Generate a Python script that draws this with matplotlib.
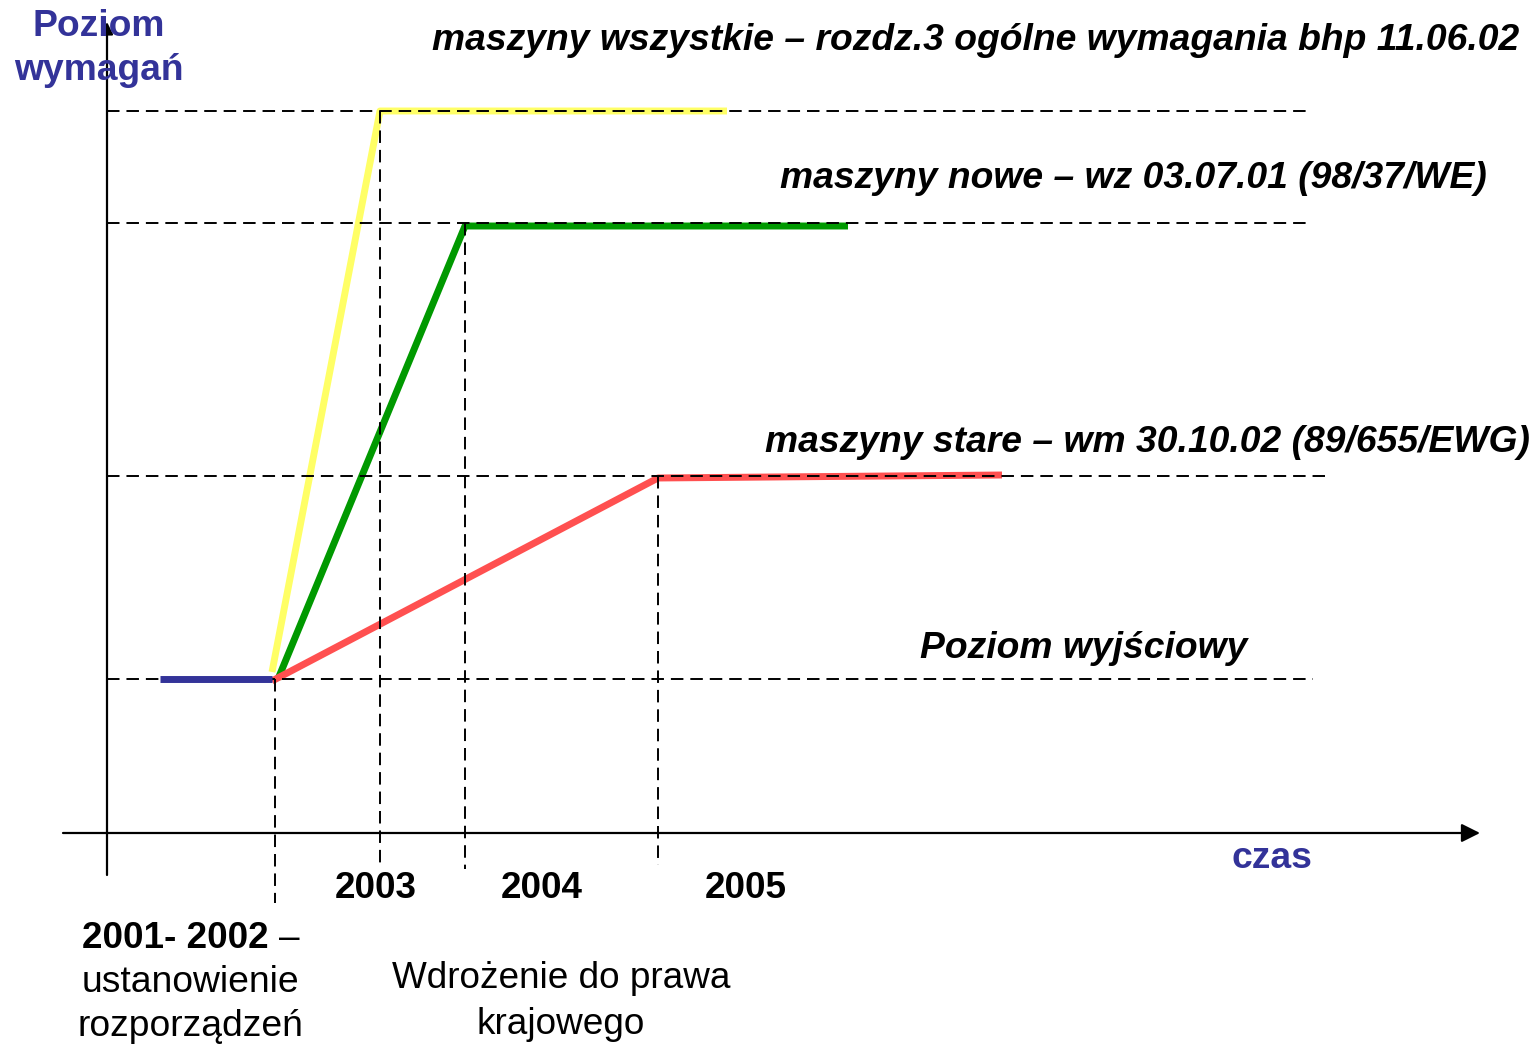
import matplotlib
matplotlib.use("Agg")
import matplotlib.pyplot as plt

plt.rcParams['font.family'] = ['Liberation Sans', 'DejaVu Sans']
plt.rcParams['lines.scale_dashes'] = False

# ---- data (time units along x, requirement level along y) ----
t_blue = [0.53, 1.65]
lvl_base = 1.54

t_yellow = [1.65, 2.73, 6.20]
y_yellow = [1.61, 7.22, 7.22]

t_green = [1.71, 3.58, 7.41]
y_green = [1.54, 6.07, 6.07]

t_red = [1.65, 5.51, 8.95]
y_red = [1.52, 3.55, 3.58]

guide_levels = [7.22, 6.10, 3.57, 1.54]
guide_ends = [12.03, 12.03, 12.18, 12.06]

vguide_t = [1.68, 2.73, 3.58, 5.51]
vguide_top = [1.54, 7.22, 6.10, 3.57]
vguide_bottom = [-0.70, -0.35, -0.36, -0.32]

year_labels = ['2003', '2004', '2005']
year_pos = [2.69, 4.35, 6.39]

BLUE = '#333399'
YELLOW = '#FFFF66'
GREEN = '#009900'
RED = '#FF5050'

fig = plt.figure(figsize=(15.4, 10.45), dpi=100)
ax = fig.add_axes([0, 0, 1, 1])
ax.set_xlim(-1.07, 14.33)
ax.set_ylim(-2.12, 8.33)
ax.axis('off')

dash = (0, (9, 5))
LW = 5.0

# coloured series
ax.plot(t_yellow, y_yellow, color=YELLOW, lw=LW, solid_capstyle='butt', zorder=2)
ax.plot(t_green, y_green, color=GREEN, lw=LW, solid_capstyle='butt', zorder=2)
ax.plot(t_red, y_red, color=RED, lw=LW, solid_capstyle='butt', zorder=2)

# horizontal guides
for lv, end in zip(guide_levels, guide_ends):
    ax.plot([0, end], [lv, lv], color='black', lw=1.4, linestyle=dash, zorder=3)
# vertical guides
for t, top, bot in zip(vguide_t, vguide_top, vguide_bottom):
    ax.plot([t, t], [top, bot], color='black', lw=1.4, linestyle=dash, zorder=3)

ax.plot(t_blue, [lvl_base, lvl_base], color=BLUE, lw=LW, solid_capstyle='butt', zorder=4)

# axes arrows
ax.annotate('', xy=(13.73, 0), xytext=(-0.44, 0),
            arrowprops=dict(arrowstyle='-|>', mutation_scale=28, lw=1.6,
                            color='black', shrinkA=0, shrinkB=0))
ax.annotate('', xy=(0, 8.11), xytext=(0, -0.42),
            arrowprops=dict(arrowstyle='-|>', mutation_scale=18, lw=1.6,
                            color='black', shrinkA=0, shrinkB=0))

# texts
ax.text(-0.08, 8.06, 'Poziom', color=BLUE, fontsize=26.8, fontweight='bold', ha='center', va='center')
ax.text(-0.08, 7.62, 'wymagań', color=BLUE, fontsize=26.8, fontweight='bold', ha='center', va='center')
ax.text(11.65, -0.26, 'czas', color=BLUE, fontsize=26.8, fontweight='bold', ha='center', va='center')

lab_kw = dict(fontsize=26.8, fontweight='bold', fontstyle='italic', ha='left', va='center')
ax.text(3.25, 7.92, 'maszyny wszystkie – rozdz.3 ogólne wymagania bhp 11.06.02', **lab_kw)
ax.text(6.73, 6.55, 'maszyny nowe – wz 03.07.01 (98/37/WE)', **lab_kw)
ax.text(6.58, 3.91, 'maszyny stare – wm 30.10.02 (89/655/EWG)', **lab_kw)
ax.text(8.13, 1.84, 'Poziom wyjściowy', **lab_kw)

for lab, x in zip(year_labels, year_pos):
    ax.text(x, -0.56, lab, fontsize=26.6, fontweight='bold', ha='center', va='center')

ax.text(-0.25, -1.05, '2001- 2002', fontsize=26.6, fontweight='bold', ha='left', va='center')
ax.text(1.72, -1.05, '–', fontsize=26.6, ha='left', va='center')
ax.text(0.83, -1.50, 'ustanowienie', fontsize=26.8, ha='center', va='center')
ax.text(0.83, -1.94, 'rozporządzeń', fontsize=26.8, ha='center', va='center')
ax.text(4.54, -1.46, 'Wdrożenie do prawa', fontsize=26.6, ha='center', va='center')
ax.text(4.54, -1.91, 'krajowego', fontsize=26.6, ha='center', va='center')

fig.savefig('out.png', dpi=100)
